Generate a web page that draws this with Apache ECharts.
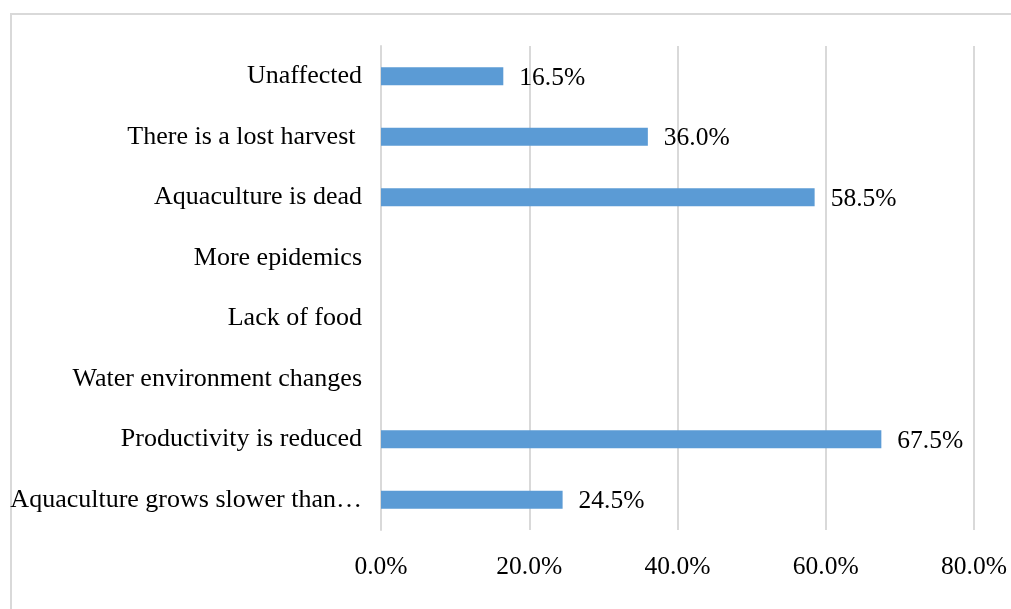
<!DOCTYPE html>
<html lang="en">
<head>
  <meta charset="UTF-8">
  <title>Impacts on aquaculture</title>
  <script src="https://cdn.jsdelivr.net/npm/echarts@6/dist/echarts.min.js"></script>
  <style>
    html, body { margin: 0; padding: 0; background: #fff; }
  </style>
</head>
<body>
  <div id="chart" style="width:1011px;height:609px;"></div>
  <script>
    // top to bottom as in the picture
    var categories = [
      'Unaffected',
      'There is a lost harvest ',
      'Aquaculture is dead',
      'More epidemics',
      'Lack of food',
      'Water environment changes',
      'Productivity is reduced',
      'Aquaculture grows slower than…'
    ];
    var values = [16.5, 36.0, 58.5, null, null, null, 67.5, 24.5];
    var tickLabels = ['0.0%', '20.0%', '40.0%', '60.0%', '80.0%'];

    var font = '"Liberation Serif", "Times New Roman", serif';
    var myChart = echarts.init(document.getElementById('chart'));

    var option = {
      animation: false,
      graphic: [{
        type: 'rect',
        shape: {x: 11, y: 14, width: 1010, height: 620},
        style: {fill: 'none', stroke: '#d9d9d9', lineWidth: 2},
        silent: true
      }],
      grid: {left: 381, right: 37, top: 46, bottom: 79},
      xAxis: {
        type: 'value',
        min: 0,
        max: 80,
        interval: 20,
        axisLine: {show: false},
        axisTick: {show: false},
        splitLine: {lineStyle: {color: '#d9d9d9', width: 2}},
        axisLabel: {
          margin: 24,
          color: '#000',
          fontFamily: font,
          fontSize: 25.5,
          formatter: function (v) { return tickLabels[Math.round(v / 20)]; }
        }
      },
      yAxis: {
        type: 'category',
        inverse: true,
        data: categories,
        axisLine: {lineStyle: {color: '#d9d9d9', width: 2}},
        axisTick: {show: false},
        axisLabel: {
          margin: 19,
          color: '#000',
          fontFamily: font,
          fontSize: 26
        }
      },
      series: [{
        type: 'bar',
        data: values,
        barWidth: 18,
        itemStyle: {color: '#5b9bd5'},
        label: {
          show: true,
          position: 'right',
          distance: 16,
          color: '#000',
          fontFamily: font,
          fontSize: 25.5,
          offset: [0, 2],
          formatter: function (p) { return p.value.toFixed(1) + '%'; }
        }
      }]
    };
    myChart.setOption(option);
  </script>
</body>
</html>
